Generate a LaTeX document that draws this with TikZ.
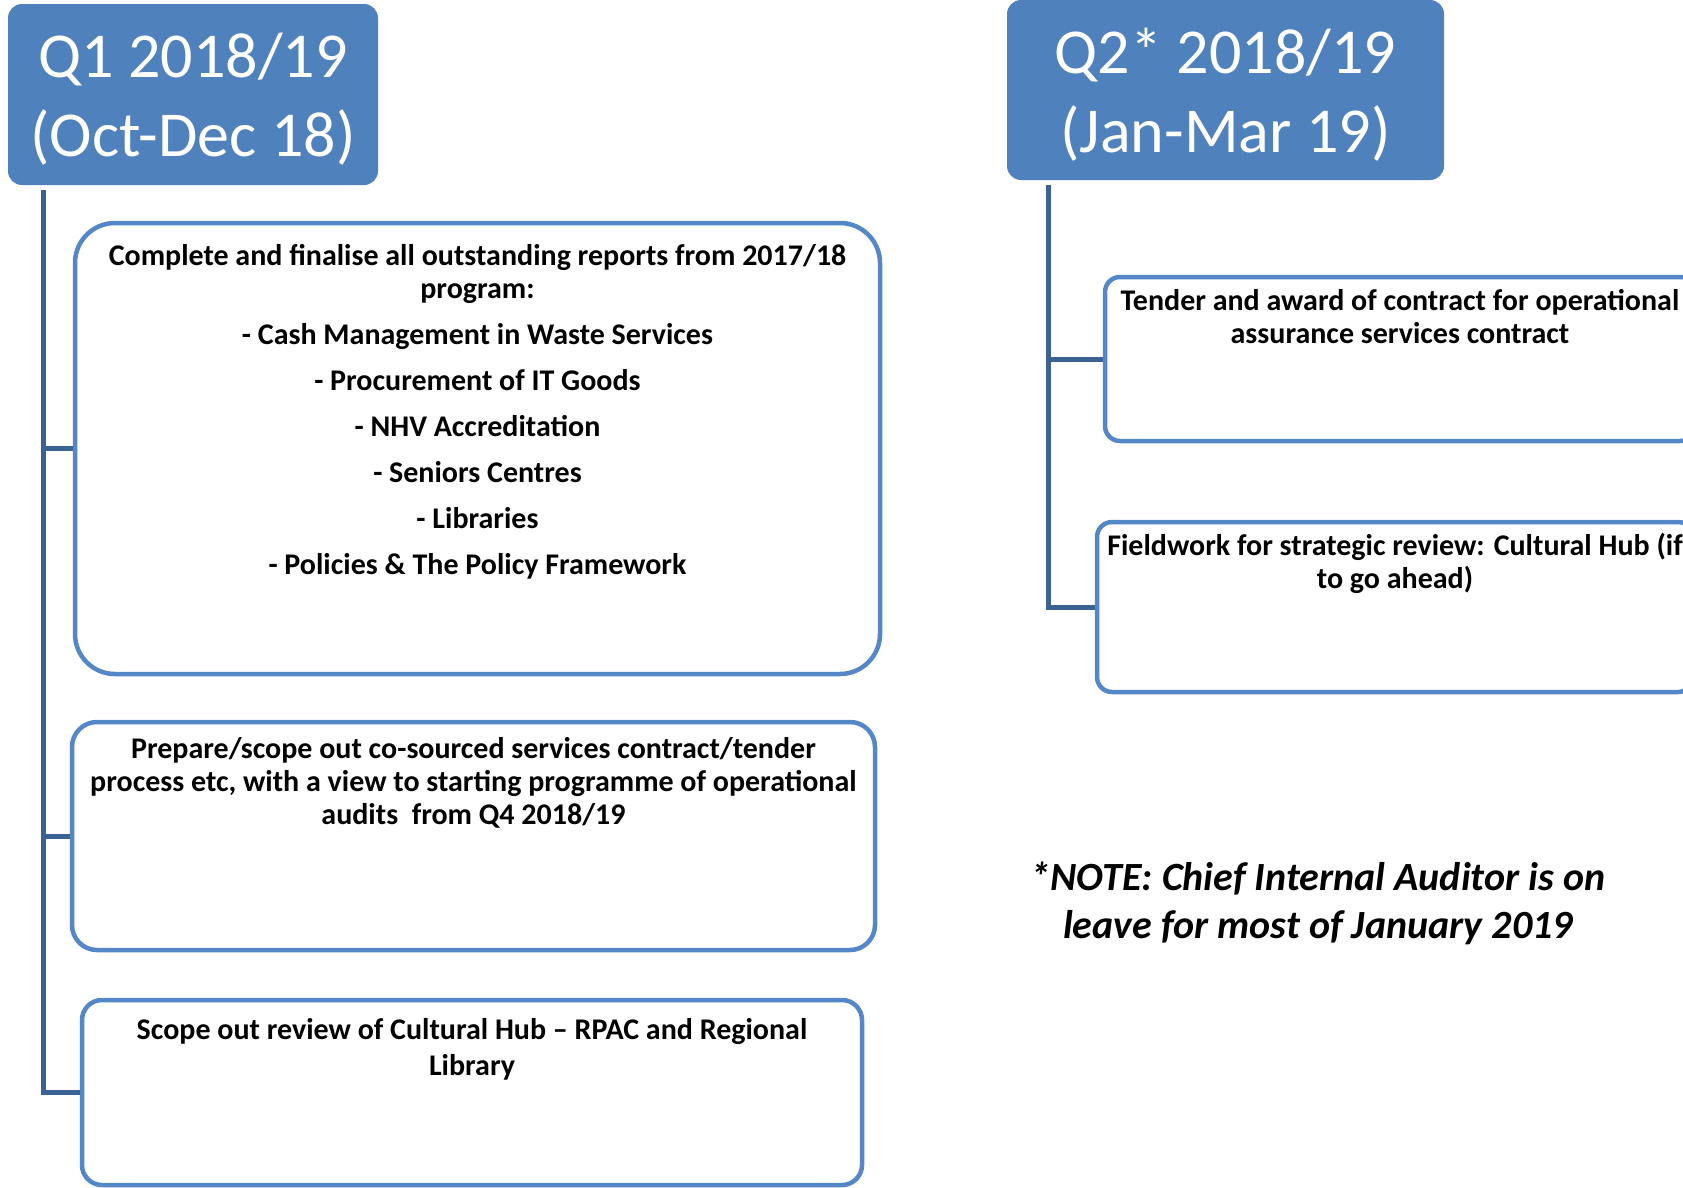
\documentclass[tikz,border=0pt]{standalone}
\usepackage{fontspec}
\setmainfont{Carlito}
\definecolor{hdr}{RGB}{79,129,189}
\definecolor{brd}{RGB}{84,135,200}
\definecolor{conn}{RGB}{60,98,148}
\begin{document}
\begin{tikzpicture}[x=1pt,y=-1pt,
  header/.style={draw=none, fill=hdr, rounded corners=14pt, inner sep=0pt},
  headertext/.style={text=white, font=\fontsize{64}{79}\selectfont, align=center,
    inner sep=0pt, yshift=-5pt},
  taskbox/.style={draw=brd, line width=4.5pt, fill=white, inner sep=0pt},
  tasktext/.style={font=\bfseries\fontsize{30}{33}\selectfont, align=center,
    inner sep=0pt, anchor=north},
  notetext/.style={font=\bfseries\itshape\fontsize{40}{48}\selectfont, align=center, inner sep=0pt},
  link/.style={draw=conn, line width=5pt}]
\useasboundingbox (0,0) rectangle (1683,1187);
\clip (0,0) rectangle (1683,1187);

% headers
\node[header, minimum width=370pt, minimum height=181pt,
  label={[headertext]center:{Q1 2018/19\\(Oct-Dec 18)}}] (q1) at (193,94.5) {};
\node[header, minimum width=437pt, minimum height=180pt,
  label={[headertext]center:{Q2* 2018/19\\(Jan-Mar 19)}}] (q2) at (1225.5,90) {};

% boxes
\node[taskbox, rounded corners=40pt, minimum width=805pt, minimum height=451pt] (b1) at (477.5,448.5) {};
\node[taskbox, rounded corners=25pt, minimum width=803pt, minimum height=228pt] (b2) at (473.5,836) {};
\node[taskbox, rounded corners=20pt, minimum width=780pt, minimum height=185pt] (b3) at (472,1092.5) {};
\node[taskbox, rounded corners=15pt, minimum width=590pt, minimum height=164pt] (b4) at (1400,359) {};
\node[taskbox, rounded corners=15pt, minimum width=596pt, minimum height=170pt] (b5) at (1395,607) {};

% texts
\node[tasktext] (t1) at (477.5,244) {Complete and finalise all outstanding reports from 2017/18\\program:\\[13pt]
  - Cash Management in Waste Services\\[13pt]
  - Procurement of IT Goods\\[13pt]
  - NHV Accreditation\\[13pt]
  - Seniors Centres\\[13pt]
  - Libraries\\[13pt]
  - Policies \& The Policy Framework};
\node[tasktext] (t2) at (473.5,737) {Prepare/scope out co-sourced services contract/tender\\process etc, with a view to starting programme of operational\\audits\ \ from Q4 2018/19};
\node[tasktext] (t3) at (472,1018) {Scope out review of Cultural Hub -- RPAC and Regional\\[3pt]Library};
\node[tasktext] (t4) at (1400,289) {Tender and award of contract for operational\\assurance services contract};
\node[tasktext] (t5) at (1395,533) {Fieldwork for strategic review: Cultural Hub (if\\to go ahead)};

\node[notetext] (note) at (1318,903) {*NOTE: Chief Internal Auditor is on\\leave for most of January 2019};

% connectors
\coordinate (s1) at (43,190);
\draw[link] (s1) |- (b3.west);
\draw[link] (s1 |- b1.west) -- (b1.west);
\draw[link] (s1 |- b2.west) -- (b2.west);
\coordinate (s2) at (1048,185);
\draw[link] (s2) |- (b5.west);
\draw[link] (s2 |- b4.west) -- (b4.west);
\end{tikzpicture}
\end{document}
